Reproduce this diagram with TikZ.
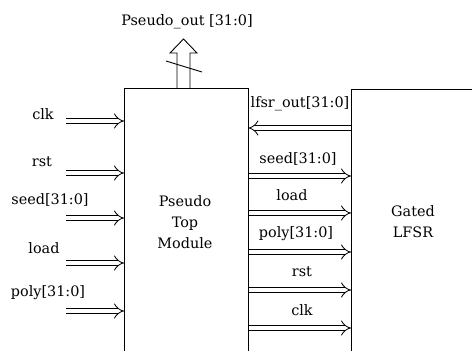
\documentclass[tikz,border=0pt]{standalone}
\usepackage{fontspec}
\setmainfont{DejaVu Serif}
\usetikzlibrary{arrows.meta}
\begin{document}
\begin{tikzpicture}[x=1pt,y=-1pt,
  font=\fontsize{14.4}{21}\selectfont,
  bus/.style={double, double distance=4.6pt, line width=0.8pt, -{Implies[length=5pt,width=11pt]}},
  boxline/.style={line width=1pt},
  lbl/.style={inner sep=0pt},
  blk/.style={inner sep=0pt, minimum width=#1, anchor=north west}]
\useasboundingbox (0,0) rectangle (472,351);
\fill[white] (0,0) rectangle (472,351);
% blocks
\node[blk=124pt, minimum height=263pt] (pt) at (124,88) {};
\node[blk=121pt, minimum height=262pt] (lf) at (351,89) {};
\node[lbl, align=center] (ptname) at (185,222) {Pseudo\\Top\\Module};
\node[lbl, align=center] (lfname) at (413,222) {Gated\\LFSR};
% left inputs
\coordinate (i1) at (66,121);
\coordinate (i2) at (66,173);
\coordinate (i3) at (66,218);
\coordinate (i4) at (66,263);
\coordinate (i5) at (66,311);
\foreach \i in {1,...,5} {\draw[bus] (i\i) -- (i\i -| pt.west);}
\node[lbl] (lclk) at (43,114) {clk};
\node[lbl] (lrst) at (42,162) {rst};
\node[lbl] (lseed) at (50,200) {seed[31:0]};
\node[lbl] (lload) at (44,248) {load};
\node[lbl] (lpoly) at (48,293) {poly[31:0]};
% between blocks
\coordinate (b0) at (300,128);
\draw[bus] (b0 -| lf.west) -- (b0 -| pt.east);
\foreach \y [count=\k] in {176,213,252,290,328} {
  \coordinate (b\k) at (300,\y);
  \draw[bus] (b\k -| pt.east) -- (b\k -| lf.west);
}
\node[lbl] (rout) at (300,104) {lfsr\_out[31:0]};
\node[lbl] (rseed) at (298,159) {seed[31:0]};
\node[lbl] (rload) at (292,195) {load};
\node[lbl] (rpoly) at (296,234) {poly[31:0]};
\node[lbl] (rrst) at (302,272) {rst};
\node[lbl] (rclk) at (302,310) {clk};
% box outlines on top
\draw[boxline] (pt.south west) -- (pt.north west) -- (pt.north east) -- (pt.south east);
\draw[boxline] (lf.south west) -- (lf.north west) -- (lf.north east);
% output bus
\coordinate (o) at (183.5,39);
\draw[line width=0.9pt, line join=miter]
  (o |- pt.north) ++(-6.5,0) coordinate (os1) -- (177,53) -- (170,53) -- (o)
  -- (197,53) -- (190,53) -- (190,88);
\draw[line width=0.9pt] (166,61) -- (202,72);
\node[lbl] (pout) at (187,22) {Pseudo\_out [31:0]};
\end{tikzpicture}
\end{document}
